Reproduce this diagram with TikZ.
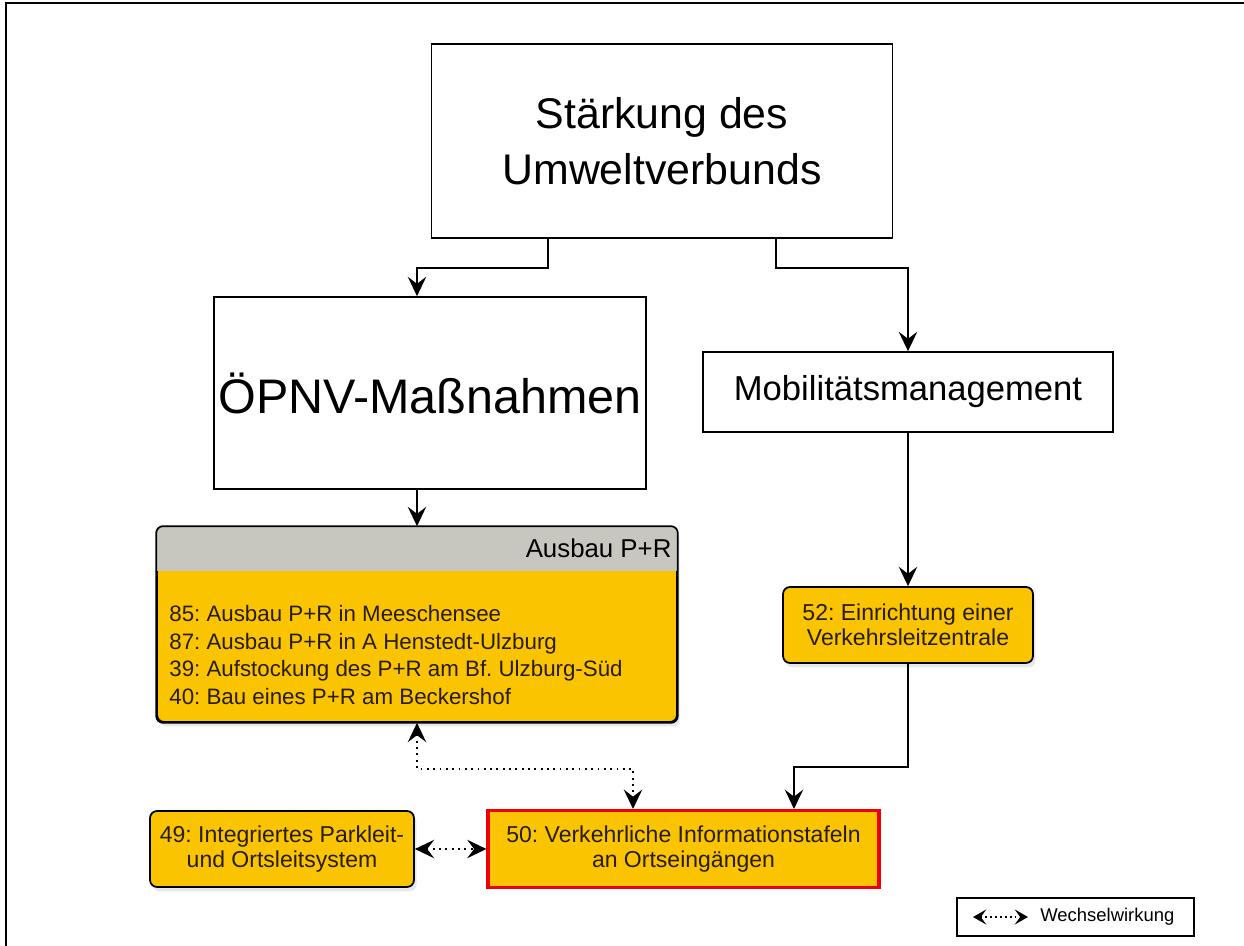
\documentclass[tikz,border=0pt]{standalone}
\usepackage{fontspec}
\setmainfont{Liberation Sans}
\usetikzlibrary{arrows.meta,shadows}
\definecolor{gelb}{RGB}{250,196,0}
\definecolor{kopfgrau}{RGB}{200,199,191}
\definecolor{rahmenrot}{RGB}{240,0,0}
\definecolor{schrift}{RGB}{40,28,10}
\frenchspacing

\tikzset{
  spitze/.tip={Stealth[length=11pt,width=10.5pt,inset=4pt]},
  kleinspitze/.tip={Stealth[length=7.5pt,width=8.5pt,inset=3pt]},
  kasten/.style={draw, line width=1pt, fill=white, align=center, inner sep=0pt},
  gelbkasten/.style={draw, line width=1pt, fill=gelb, rounded corners=4pt, align=center,
    inner sep=0pt, text=schrift, font=\fontsize{13.1}{14.2}\selectfont,
    drop shadow={shadow xshift=1.5pt, shadow yshift=-2.5pt, opacity=0.18}},
  linie/.style={line width=1pt},
  pfeil/.style={linie, -spitze},
  wechsel/.style={linie, dash pattern=on 1pt off 2.6pt, spitze-spitze},
}

\begin{document}
\begin{tikzpicture}[x=0.02cm, y=-0.02cm]
    \useasboundingbox (0,0) rectangle (1244,946);

    % Rahmen
    \draw[line width=1.2pt] (6,946) -- (6,3) -- (1244,3);

    % Oberziel
    \node[kasten, minimum width=9.22cm, minimum height=3.88cm, font=\fontsize{24.4}{32}\selectfont] (titel) at (662,141) {St\"arkung des\\Umweltverbunds};

    % Handlungsfelder
    \node[kasten, minimum width=8.64cm, minimum height=3.84cm, font=\fontsize{27.6}{32}\selectfont] (oepnv) at (430,393) {\"OPNV-Ma\ss nahmen};
    \node[kasten, minimum width=8.2cm, minimum height=1.6cm, font=\fontsize{19.7}{24}\selectfont] (mobil) at (908,392) {Mobilit\"atsmanagement};

    \draw[pfeil] ([xshift=-2.28cm]titel.south) -- ++(0,29) -| ([xshift=-0.26cm]oepnv.north);
    \draw[pfeil] ([xshift=2.28cm]titel.south) -- ++(0,29) -| (mobil.north);

    % Ausbau P+R mit Kopfzeile
    \node[gelbkasten, minimum width=10.4cm, minimum height=3.9cm] (ausbau) at (417,624.5) {};
    \begin{scope}
        \clip[rounded corners=4pt] (ausbau.north west) rectangle (ausbau.south east);
        \fill[kopfgrau] (ausbau.north west) rectangle ([yshift=-0.9cm]ausbau.north east);
    \end{scope}
    \draw[linie, rounded corners=4pt] (ausbau.north west) rectangle (ausbau.south east);
    \node[anchor=east, inner sep=0pt, font=\fontsize{14.7}{16}\selectfont] (kopf) at ([xshift=-0.12cm, yshift=-0.45cm]ausbau.north east) {Ausbau P+R};
    \node[anchor=west, align=left, inner sep=0pt, text=schrift, font=\fontsize{12.7}{15.8}\selectfont] (liste) at (169,655) {85: Ausbau P+R in Meeschensee\\
        87: Ausbau P+R in A Henstedt-Ulzburg\\
        39: Aufstockung des P+R am Bf. Ulzburg-S\"ud\\
        40: Bau eines P+R am Beckershof};

    % Einzelmassnahmen
    \node[gelbkasten, minimum width=5.0cm, minimum height=1.52cm] (m52) at (908,625) {52: Einrichtung einer\\Verkehrsleitzentrale};
    \node[gelbkasten, minimum width=5.28cm, minimum height=1.52cm] (m49) at (282,849) {49: Integriertes Parkleit-\\und Ortsleitsystem};
    \node[draw=rahmenrot, line width=1.8pt, fill=gelb, align=center, minimum width=7.82cm, minimum height=1.54cm,
        text=schrift, font=\fontsize{13.1}{14.2}\selectfont] (m50) at (683.5,849) {50: Verkehrliche Informationstafeln\\an Ortseing\"angen};

    \draw[pfeil] (oepnv.south -| ausbau.north) -- (ausbau.north);
    \draw[pfeil] (mobil.south) -- (m52.north);
    \draw[pfeil] (m52.south) -- ++(0,103) -| ([xshift=2.21cm]m50.north);

    % Wechselwirkungen
    \draw[wechsel] (ausbau.south) -- ++(0,46) -| ([xshift=-1.01cm]m50.north);
    \draw[wechsel] (m49.east) -- (m50.west);

    % Legende
    \node[draw, line width=1.2pt, minimum width=4.74cm, minimum height=0.76cm] (legende) at (1075.5,917) {};
    \node[anchor=west, inner sep=0pt, font=\fontsize{10.5}{12}\selectfont] (legtext) at (1040,917) {Wechselwirkung};
    \draw[linie, dash pattern=on 1pt off 1.8pt, kleinspitze-kleinspitze]
        ([xshift=-1.34cm]legtext.west) -- ([xshift=-0.24cm]legtext.west);

\end{tikzpicture}
\end{document}
